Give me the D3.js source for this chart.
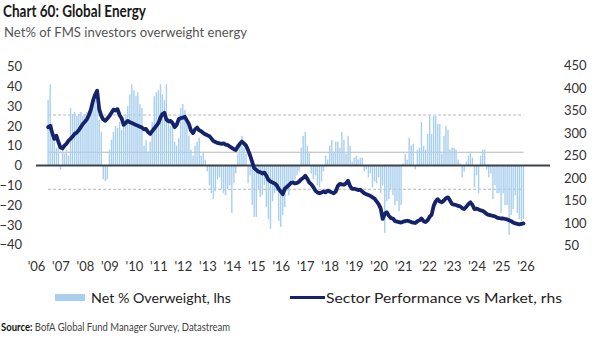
<!DOCTYPE html>
<html>
<head>
<meta charset="utf-8">
<script src="https://cdn.jsdelivr.net/npm/d3@7"></script>
<style>
  html, body { margin: 0; padding: 0; background: #ffffff; }
  svg { display: block; }
  text { font-family: Lato, "Open Sans", sans-serif; }
</style>
</head>
<body>
<svg id="chart" width="605" height="347"></svg>
<script>
// ---------------- DATA ----------------
const startMonth = "2006-07";           // first monthly observation
const netOverweight = [                  // Net % overweight energy (lhs)
  33, 41, 21, 15, 9, 12,
  -2, 8, 6, 8, 5, 29, 26, 27, 25, 26, 27, 25,
  26, 27, 24, 29, 31, 33, 30, 23, 17, -7, -8, -7,
  8, 13, 17, 20, 19, 22, 18, 21, 26, 30, 36, 41,
  38, 35, 37, 31, 29, 10, 13, 7, 12, 22, 35, 37,
  38, 41, 36, 33, 41, 24, 20, 22, 12, 10, 14, 29,
  31, 28, 24, 15, 8, 5, 10, 12, 14, 5, 7, 3,
  -3, -10, -14, -17, -13, -7, -6, -12, -14, -15, -12, -10,
  -24, -9, -4, 6, 12, 15, 9, 6, -9, -5, -20, -26,
  -26, -12, -16, -15, -10, -21, -27, -32, -18, -14, -13, -28,
  -31, -25, -21, -13, -15, -10, -8, -7, -5, -3, 9, 15,
  17, 10, 7, -4, -7, -5, -10, -11, -8, -3, 5, 3,
  10, 13, 7, 12, 12, 9, 17, 13, 6, 15, 10, 2,
  4, 5, 3, 4, 4, -3, -2, -6, -4, -11, -8, -9,
  -6, -14, -10, -34, -18, -17, -12, -15, -20, -18, -23, -20,
  1, 6, 3, 14, 10, 11, -2, 8, 9, 22, 10, 8,
  16, 25, 16, 25, 25, 21, 21, 6, 15, 20, 18, 8,
  9, 9, 8, 3, 1, -6, -3, 2, 5, 7, 4, -11,
  -5, -14, 5, 8, 8, -2, -6, -4, -17, -10, -14, -14,
  -24, -14, -20, -20, -35, -25, -22, -15, -24, -27, -28, -27
];
const sectorPerf = [                     // Sector performance vs market (rhs)
  313, 316, 300, 287, 294, 280,
  268, 266, 272, 276, 283, 287, 292, 298, 301, 306, 313, 320,
  325, 331, 340, 353, 372, 385, 394, 353, 338, 330, 327, 332,
  338, 345, 352, 350, 353, 340, 333, 318, 322, 327, 324, 322,
  320, 318, 316, 314, 312, 308, 309, 302, 298, 304, 310, 316,
  322, 334, 342, 345, 330, 326, 327, 322, 313, 318, 331, 333,
  334, 336, 328, 320, 306, 300, 308, 312, 306, 304, 300, 297,
  295, 293, 288, 282, 280, 278, 277, 276, 277, 274, 273, 270,
  267, 264, 262, 270, 276, 281, 277, 272, 262, 250, 236, 222,
  218, 214, 213, 210, 212, 205, 196, 192, 190, 188, 184, 176,
  170, 164, 176, 180, 184, 189, 190, 188, 189, 192, 197, 200,
  205, 198, 190, 186, 180, 172, 168, 166, 168, 170, 168, 172,
  170, 168, 166, 170, 182, 187, 186, 185, 188, 194, 182, 176,
  176, 175, 173, 174, 170, 166, 164, 162, 160, 157, 154, 148,
  142, 132, 109, 120, 124, 116, 111, 110, 104, 103, 102, 101,
  103, 104, 105, 104, 102, 101, 100, 104, 106, 110, 104, 102,
  106, 114, 118, 138, 148, 153, 148, 146, 150, 155, 157, 150,
  142, 141, 140, 138, 137, 133, 131, 136, 142, 146, 140, 131,
  132, 130, 128, 127, 124, 120, 118, 117, 116, 115, 112, 111,
  110, 110, 109, 108, 106, 104, 101, 99, 98, 97, 98, 99
];
const refSolid = [6.7];                  // average level (lhs)
const refDashed = [25.5, -12];           // +/- 1 st.dev. (lhs)
const leftTicks = [-40, -30, -20, -10, 0, 10, 20, 30, 40, 50];
const rightTicks = [50, 100, 150, 200, 250, 300, 350, 400, 450];
const yearTicks = d3.range(2006, 2027);
const yearLabels = yearTicks.map(y => "'" + String(y).slice(2));
const title = "Chart 60: Global Energy";
const subtitle = "Net% of FMS investors overweight energy";
const legendLabels = ["Net % Overweight, lhs", "Sector Performance vs Market, rhs"];
const sourceLabel = ["Source:", " BofA Global Fund Manager Survey, Datastream"];

// ---------------- BUILD ----------------
const parseMonth = d3.timeParse("%Y-%m");
const start = parseMonth(startMonth);
const dates = netOverweight.map((_, i) => d3.timeMonth.offset(start, i));
const rows = dates.map((d, i) => ({ date: d, net: netOverweight[i], perf: sectorPerf[i] }));

const svg = d3.select("#chart");
const BAR = "#a9cfee", LINE = "#15236b";

const x = d3.scaleTime()
  .domain([new Date(2006, 0, 1), new Date(2027, 0, 1)])
  .range([36, 550]);
const yL = d3.scaleLinear().domain([-40, 50]).range([244.7, 66.5]);
const yR = d3.scaleLinear().domain([50, 450]).range([245.5, 65.5]);

// titles
svg.append("text").attr("x", 3).attr("y", 17)
  .attr("font-size", 17).attr("font-weight", 700).attr("fill", "#1a1a1a")
  .attr("textLength", 143).attr("lengthAdjust", "spacingAndGlyphs")
  .text(title);
svg.append("text").attr("x", 4).attr("y", 37)
  .attr("font-size", 14).attr("fill", "#555")
  .attr("textLength", 243).attr("lengthAdjust", "spacingAndGlyphs")
  .text(subtitle);

// reference lines across the data span
const x0 = x(dates[0]), x1 = x(dates[dates.length - 1]);
svg.append("g").selectAll("line").data(refDashed).join("line")
  .attr("x1", x0).attr("x2", x1)
  .attr("y1", d => yL(d)).attr("y2", d => yL(d))
  .attr("stroke", "#b5b5b5").attr("stroke-width", 1).attr("stroke-dasharray", "3,2");
svg.append("g").selectAll("line").data(refSolid).join("line")
  .attr("x1", x0).attr("x2", x1)
  .attr("y1", d => yL(d)).attr("y2", d => yL(d))
  .attr("stroke", "#b8b8b8").attr("stroke-width", 1.2);

// bars
svg.append("g").selectAll("rect").data(rows).join("rect")
  .attr("x", d => x(d.date) - 0.7)
  .attr("width", 1.4)
  .attr("y", d => Math.min(yL(d.net), yL(0)))
  .attr("height", d => Math.abs(yL(d.net) - yL(0)))
  .attr("fill", BAR);

// zero line
svg.append("line")
  .attr("x1", x.range()[0]).attr("x2", x.range()[1])
  .attr("y1", yL(0)).attr("y2", yL(0))
  .attr("stroke", "#3d4348").attr("stroke-width", 2);

// performance line
svg.append("path").datum(rows)
  .attr("fill", "none").attr("stroke", LINE).attr("stroke-width", 3.8)
  .attr("stroke-linejoin", "round").attr("stroke-linecap", "round")
  .attr("d", d3.line().x(d => x(d.date)).y(d => yR(d.perf)));

// axes
const axL = d3.axisLeft(yL).tickValues(leftTicks).tickSize(0).tickPadding(0);
const gL = svg.append("g").attr("transform", "translate(22,0)").call(axL);
const axR = d3.axisRight(yR).tickValues(rightTicks).tickSize(0).tickPadding(0);
const gR = svg.append("g").attr("transform", "translate(564,0)").call(axR);
const axB = d3.axisBottom(x).tickValues(yearTicks.map(y => new Date(y, 0, 1)))
  .tickFormat((d, i) => yearLabels[i]).tickSize(0).tickPadding(0);
const gB = svg.append("g").attr("transform", "translate(0,259)").call(axB);
[gL, gR, gB].forEach(g => {
  g.select(".domain").remove();
  g.selectAll("text").attr("font-family", "Lato, sans-serif")
    .attr("font-size", 13).attr("fill", "#333");
});
gB.selectAll("text").attr("dy", "0.9em");

// legend
const lg = svg.append("g");
lg.append("rect").attr("x", 55).attr("y", 294).attr("width", 30).attr("height", 7).attr("fill", BAR);
lg.append("text").attr("x", 91).attr("y", 303).attr("font-size", 14).attr("fill", "#222")
  .attr("textLength", 140).attr("lengthAdjust", "spacingAndGlyphs").text(legendLabels[0]);
lg.append("line").attr("x1", 290).attr("x2", 325).attr("y1", 297.5).attr("y2", 297.5)
  .attr("stroke", LINE).attr("stroke-width", 3.2);
lg.append("text").attr("x", 326).attr("y", 303).attr("font-size", 14).attr("fill", "#222")
  .attr("textLength", 236).attr("lengthAdjust", "spacingAndGlyphs").text(legendLabels[1]);

// source
const src = svg.append("text").attr("x", 1).attr("y", 331).attr("font-size", 10.5).attr("fill", "#444")
  .attr("textLength", 229).attr("lengthAdjust", "spacingAndGlyphs");
src.append("tspan").attr("font-weight", 700).attr("fill", "#111").text(sourceLabel[0]);
src.append("tspan").text(sourceLabel[1]);
</script>
</body>
</html>
